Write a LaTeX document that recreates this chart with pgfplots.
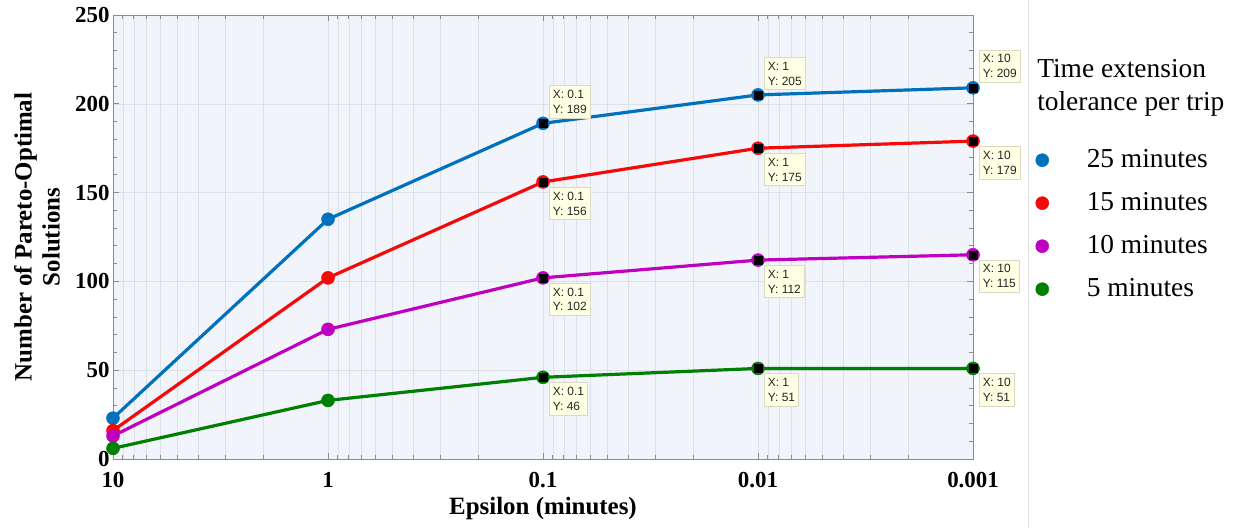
\documentclass[border=0pt]{standalone}
\usepackage{pgfplots}
\pgfplotsset{compat=1.18}
\usepackage{fontspec}
\setmainfont{Liberation Serif}
\setsansfont{Liberation Sans}
\definecolor{cblue}{RGB}{0,114,189}
\definecolor{cred}{RGB}{245,10,10}
\definecolor{cmag}{RGB}{191,0,191}
\definecolor{cgreen}{RGB}{0,128,0}
\definecolor{bgc}{RGB}{241,245,251}
\definecolor{gridc}{RGB}{220,224,231}
\definecolor{framec}{RGB}{140,140,140}
\definecolor{tipfill}{RGB}{255,255,228}
\definecolor{tipdraw}{RGB}{218,218,195}
\begin{document}
\begin{tikzpicture}[
  tip/.style={draw=tipdraw, fill=tipfill, font=\sffamily\fontsize{12}{15}\selectfont, text=black!85, align=left, inner xsep=3.5bp, inner ysep=4.5bp, line width=0.6bp},
  tipA/.style={tip, anchor=south west, xshift=6bp, yshift=5bp},
  tipB/.style={tip, anchor=north west, xshift=6bp, yshift=-5bp},
]
\begin{axis}[
  scale only axis, width=860bp, height=444bp,
  xmode=log, x dir=reverse,
  xmin=0.001, xmax=10, ymin=0, ymax=250,
  xtick={0.001,0.01,0.1,1,10}, xticklabels={0.001,0.01,0.1,1,10},
  minor xtick={0.002,0.003,0.004,0.005,0.006,0.007,0.008,0.009,0.02,0.03,0.04,0.05,0.06,0.07,0.08,0.09,0.2,0.3,0.4,0.5,0.6,0.7,0.8,0.9,2,3,4,5,6,7,8,9},
  ytick={0,50,100,150,200,250}, minor y tick num=4,
  xmajorgrids, xminorgrids, ymajorgrids,
  major grid style={gridc, line width=0.6bp},
  minor grid style={gridc, line width=0.6bp},
  axis background/.style={fill=bgc},
  axis line style={framec, line width=0.8bp},
  every tick/.style={framec, line width=0.8bp},
  major tick length=6bp, minor tick length=4bp,
  tick align=inside,
  tick label style={font=\bfseries\fontsize{23}{23}\selectfont, text=black},
  xticklabel style={yshift=-10bp},
  /pgf/number format/assume math mode=true,
  xlabel={Epsilon (minutes)},
  xlabel style={at={(rel axis cs:0.5,-0.126)}, anchor=base, font=\bfseries\fontsize{25}{25}\selectfont},
  ylabel={Number of Pareto-Optimal\\Solutions},
  ylabel style={at={(rel axis cs:-0.0884,0.5)}, anchor=center, align=center, font=\bfseries\fontsize{25}{28}\selectfont},
  clip=false,
  legend style={at={(rel axis cs:1.0727,0.7095)}, anchor=north west, draw=none, fill=none, inner sep=0pt,
    font=\fontsize{27.5}{27.5}\selectfont, row sep=11bp,
    nodes={text height=20bp, text depth=6bp, inner sep=3bp},
    /tikz/every odd column/.append style={column sep=35bp}},
  legend cell align=left,
  legend image code/.code={\draw[#1, only marks] plot coordinates {(6.5bp,0bp)};},
]
\addplot[cblue, line width=3.2bp, mark=*, mark size=6.5bp, mark options={line width=0.5bp, fill=cblue}] coordinates {(10,23) (1,135) (0.1,189) (0.01,205) (0.001,209)};
\addlegendentry{25 minutes}
\addplot[cred, line width=3.2bp, mark=*, mark size=6.5bp, mark options={line width=0.5bp, fill=cred}] coordinates {(10,16) (1,102) (0.1,156) (0.01,175) (0.001,179)};
\addlegendentry{15 minutes}
\addplot[cmag, line width=3.2bp, mark=*, mark size=6.5bp, mark options={line width=0.5bp, fill=cmag}] coordinates {(10,13) (1,73) (0.1,102) (0.01,112) (0.001,115)};
\addlegendentry{10 minutes}
\addplot[cgreen, line width=3.2bp, mark=*, mark size=6.5bp, mark options={line width=0.5bp, fill=cgreen}] coordinates {(10,6) (1,33) (0.1,46) (0.01,51) (0.001,51)};
\addlegendentry{5 minutes}
\addplot[forget plot, only marks, mark=square*, mark size=4bp, black] coordinates {(0.1,189) (0.01,205) (0.001,209) (0.1,156) (0.01,175) (0.001,179) (0.1,102) (0.01,112) (0.001,115) (0.1,46) (0.01,51) (0.001,51)};
\node[tipA] at (axis cs:0.1,189) {X: 0.1\\Y: 189};
\node[tipA] at (axis cs:0.01,205) {X: 1\\Y: 205};
\node[tipA] at (axis cs:0.001,209) {X: 10\\Y: 209};
\node[tipB] at (axis cs:0.1,156) {X: 0.1\\Y: 156};
\node[tipB] at (axis cs:0.01,175) {X: 1\\Y: 175};
\node[tipB] at (axis cs:0.001,179) {X: 10\\Y: 179};
\node[tipB] at (axis cs:0.1,102) {X: 0.1\\Y: 102};
\node[tipB] at (axis cs:0.01,112) {X: 1\\Y: 112};
\node[tipB] at (axis cs:0.001,115) {X: 10\\Y: 115};
\node[tipB] at (axis cs:0.1,46) {X: 0.1\\Y: 46};
\node[tipB] at (axis cs:0.01,51) {X: 1\\Y: 51};
\node[tipB] at (axis cs:0.001,51) {X: 10\\Y: 51};
\node[anchor=west, align=left, font=\fontsize{27.5}{33}\selectfont, inner sep=0pt] at (rel axis cs:1.0745,0.835) {Time extension\\tolerance per trip};
\draw[black!12, line width=1bp] (rel axis cs:1.064,-0.1554) -- (rel axis cs:1.064,1.0338);
\coordinate (bbSW) at (rel axis cs:-0.1314,-0.1554);
\coordinate (bbNE) at (rel axis cs:1.3081,1.0338);
\end{axis}
\pgfresetboundingbox
\path[use as bounding box] (bbSW) rectangle (bbNE);
\end{tikzpicture}
\end{document}
